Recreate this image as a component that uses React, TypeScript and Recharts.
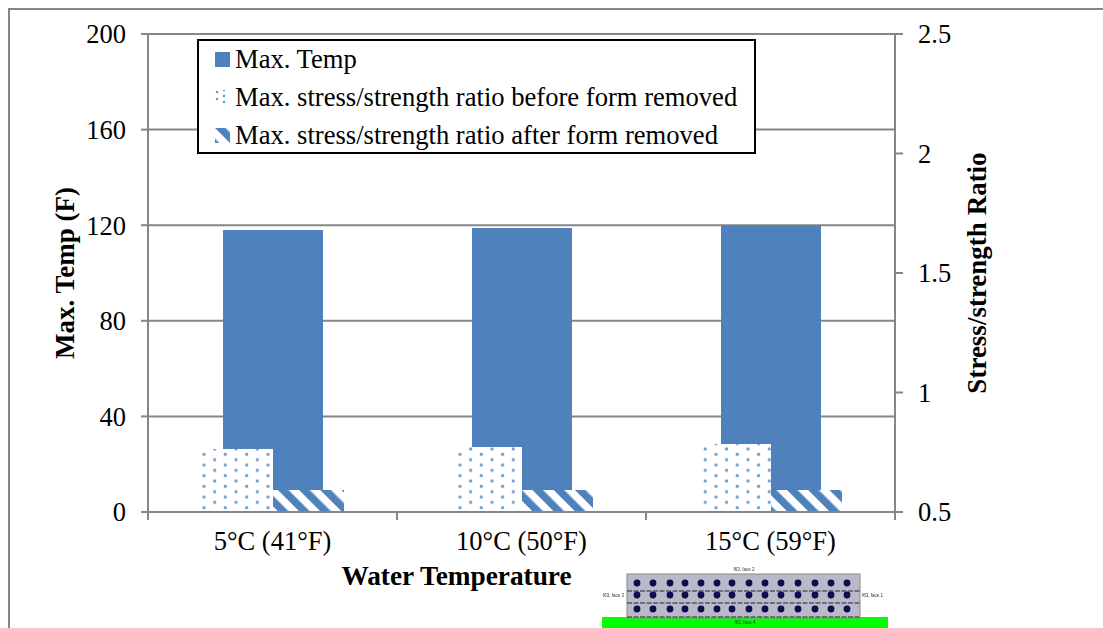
import { Bar, CartesianGrid, ComposedChart, Legend, XAxis, YAxis } from "recharts";

const SERIF = '"Liberation Serif", "Times New Roman", serif';
const AXIS_GRAY = "#868686";
const BLUE = "#4f81bd";

const categories = ["5°C (41°F)", "10°C (50°F)", "15°C (59°F)"];
const maxTemp = [118, 118.8, 120];
const ratioBefore = [0.764, 0.772, 0.785];
const ratioAfter = [0.592, 0.592, 0.592];
const tempTicks = [0, 40, 80, 120, 160, 200];
const ratioTicks = [0.5, 1, 1.5, 2, 2.5];
const legendDots = [
  [2, 2],
  [9, 0],
  [9, 6],
  [2, 9],
  [9, 12],
];

// rejilla del modelo FE pegado debajo del gráfico
const insetDotX = [637, 653, 670, 685, 701, 717, 732, 749, 765, 781, 798, 815, 831, 847];
const insetDotY = [583, 595, 609];
const insetLayerY = [591, 603, 617];

const rows = categories.map((name, i) => ({
  name,
  temp: maxTemp[i],
  before: ratioBefore[i],
  after: ratioAfter[i],
}));

const BAND = 249;

function CategoryTick({ x, y, payload, index }: any) {
  return (
    <g>
      <line x1={x - BAND / 2} x2={x - BAND / 2} y1={y} y2={y + 8} stroke={AXIS_GRAY} strokeWidth={2} />
      {index === categories.length - 1 && (
        <line x1={x + BAND / 2} x2={x + BAND / 2} y1={y} y2={y + 8} stroke={AXIS_GRAY} strokeWidth={2} />
      )}
      <text x={x} y={y + 38} textAnchor="middle" fontSize={26.5} fontFamily={SERIF} fill="#000">
        {payload.value}
      </text>
    </g>
  );
}

function LegendBox({ payload }: any) {
  return (
    <div
      style={{
        boxSizing: "border-box",
        width: 559,
        height: 115,
        background: "#fff",
        border: "2px solid #000",
        paddingLeft: 16,
        fontFamily: SERIF,
        fontSize: 26.6,
        color: "#000",
      }}
    >
      {(payload ?? []).map((entry: any, i: number) => (
        <div
          key={entry.value}
          style={{ height: 38, marginTop: i === 0 ? -1 : 0, display: "flex", alignItems: "center", whiteSpace: "nowrap" }}
        >
          <svg width={15} height={15} style={{ marginRight: 5, flexShrink: 0 }}>
            {i === 0 && <rect width={15} height={15} fill={BLUE} />}
            {i === 1 && legendDots.map(([cx, cy]) => <circle key={`${cx}-${cy}`} cx={cx} cy={cy} r={1.2} fill="#5f94d6" />)}
            {i === 2 && <rect width={15} height={15} fill="url(#stripes)" />}
          </svg>
          <span>{entry.value}</span>
        </div>
      ))}
    </div>
  );
}

function FeInset() {
  return (
    <svg width={1103} height={628} style={{ position: "absolute", left: 0, top: 0, pointerEvents: "none" }}>
      <defs>
        <filter id="soft">
          <feGaussianBlur stdDeviation={0.45} />
        </filter>
      </defs>
      <g filter="url(#soft)" fontFamily='"Liberation Sans", sans-serif' fontSize={4.5} fill="#333">
        <rect x={602} y={617} width={286} height={11} fill="#00ff00" />
        <rect x={627} y={574} width={233} height={44} fill="#b9b9c9" stroke="#8a8a8a" />
        {insetLayerY.map((y) => (
          <line key={y} x1={627} x2={860} y1={y} y2={y} stroke="#55555f" strokeWidth={1.6} strokeDasharray="5 1.5" />
        ))}
        {insetDotY.map((y) =>
          insetDotX.map((x) => <circle key={`${x}-${y}`} cx={x} cy={y} r={3.4} fill="#0b0b4d" />),
        )}
        <text x={744} y={571} textAnchor="middle">f63, face 2</text>
        <text x={603} y={597}>f63, face 3</text>
        <text x={862} y={597}>f63, face 1</text>
        <text x={745} y={624} textAnchor="middle">f63, face 4</text>
      </g>
    </svg>
  );
}

export default function App() {
  document.body.style.margin = "0";
  return (
    <div style={{ position: "relative", width: 1103, height: 628, overflow: "hidden", background: "#fff" }}>
      <div
        style={{
          position: "absolute",
          left: 8,
          top: 8,
          width: 1095,
          height: 620,
          borderTop: `2px solid ${AXIS_GRAY}`,
          borderLeft: `2px solid ${AXIS_GRAY}`,
          boxSizing: "border-box",
        }}
      />
      <div style={{ position: "absolute", left: 0, top: 0 }}>
        <ComposedChart
          width={1103}
          height={628}
          data={rows}
          barGap={0}
          margin={{ top: 34, left: 88, right: 148, bottom: 76 }}
          style={{ fontFamily: SERIF }}
        >
          <defs>
            <pattern id="dots" patternUnits="userSpaceOnUse" x={198.67} y={449} width={21.33} height={10.67}>
              <rect width={21.33} height={10.67} fill="#fff" />
              <circle cx={5.33} cy={5.33} r={1.6} fill="#6d9bd6" />
              <circle cx={16} cy={0} r={1.6} fill="#6d9bd6" />
              <circle cx={16} cy={10.67} r={1.6} fill="#6d9bd6" />
            </pattern>
            <pattern
              id="stripes"
              patternUnits="userSpaceOnUse"
              width={15}
              height={15}
              patternTransform="rotate(-45)"
            >
              <rect width={15} height={15} fill="#fff" />
              <rect width={7.5} height={15} fill={BLUE} />
            </pattern>
          </defs>
          <CartesianGrid vertical={false} yAxisId="temp" xAxisId="cat" stroke={AXIS_GRAY} strokeWidth={2} />
          <XAxis
            xAxisId="cat"
            dataKey="name"
            height={40}
            interval={0}
            tickSize={0}
            tickMargin={0}
            tickLine={false}
            axisLine={{ stroke: AXIS_GRAY, strokeWidth: 2 }}
            tick={<CategoryTick />}
            label={{
              value: "Water Temperature",
              position: "insideBottom",
              offset: -33,
              fontFamily: SERIF,
              fontSize: 27.3,
              fontWeight: 700,
              fill: "#000",
              dx: -65,
            }}
          />
          <XAxis xAxisId="ratio" dataKey="name" hide />
          <YAxis
            yAxisId="temp"
            width={60}
            domain={[0, 200]}
            ticks={tempTicks}
            interval={0}
            tickSize={7}
            tickMargin={15}
            tick={{ fontSize: 26.5, fill: "#000", fontFamily: SERIF }}
            tickLine={{ stroke: AXIS_GRAY, strokeWidth: 2 }}
            axisLine={{ stroke: AXIS_GRAY, strokeWidth: 2 }}
            label={{
              value: "Max. Temp (F)",
              angle: -90,
              position: "center",
              dx: -54,
              fontFamily: SERIF,
              fontSize: 27,
              fontWeight: 700,
              fill: "#000",
            }}
          />
          <YAxis
            yAxisId="ratio"
            orientation="right"
            width={60}
            domain={[0.5, 2.5]}
            ticks={ratioTicks}
            interval={0}
            tickSize={8}
            tickMargin={15}
            tick={{ fontSize: 26.5, fill: "#000", fontFamily: SERIF }}
            tickLine={{ stroke: AXIS_GRAY, strokeWidth: 2 }}
            axisLine={{ stroke: AXIS_GRAY, strokeWidth: 2 }}
            label={{
              value: "Stress/strength Ratio",
              angle: -90,
              position: "center",
              dx: 51,
              fontFamily: SERIF,
              fontSize: 27,
              fontWeight: 700,
              fill: "#000",
            }}
          />
          <Legend
            layout="vertical"
            align="center"
            verticalAlign="middle"
            itemSorter={null}
            wrapperStyle={{ left: 197, top: 39, width: 559 }}
            content={<LegendBox />}
          />
          <Bar
            name="Max. Temp"
            dataKey="temp"
            xAxisId="cat"
            yAxisId="temp"
            barSize={100}
            fill={BLUE}
            isAnimationActive={false}
          />
          <Bar
            name="Max. stress/strength ratio before form removed"
            dataKey="before"
            xAxisId="ratio"
            yAxisId="ratio"
            barSize={71}
            fill="url(#dots)"
            isAnimationActive={false}
          />
          <Bar
            name="Max. stress/strength ratio after form removed"
            dataKey="after"
            xAxisId="ratio"
            yAxisId="ratio"
            barSize={71}
            fill="url(#stripes)"
            isAnimationActive={false}
          />
        </ComposedChart>
      </div>
      <FeInset />
    </div>
  );
}
